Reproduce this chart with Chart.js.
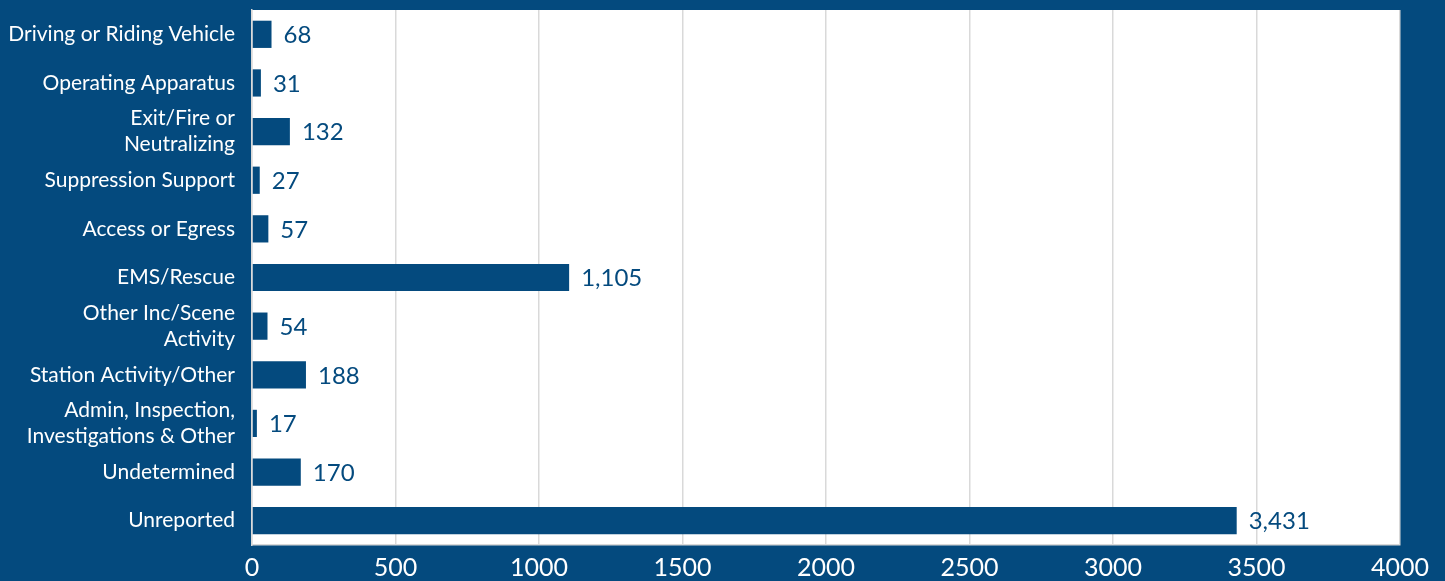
<!DOCTYPE html>
<html>
<head>
<meta charset="utf-8">
<script src="https://cdn.jsdelivr.net/npm/chart.js@4/dist/chart.umd.min.js"></script>
<style>
  html, body { margin: 0; padding: 0; background: #044a7e; }
  #wrap { width: 1445px; height: 581px; position: relative; }
</style>
</head>
<body>
<div id="wrap"><canvas id="chart"></canvas></div>
<script>
const categories = [
  'Driving or Riding Vehicle',
  'Operating Apparatus',
  ['Exit/Fire or', 'Neutralizing'],
  'Suppression Support',
  'Access or Egress',
  'EMS/Rescue',
  ['Other Inc/Scene', 'Activity'],
  'Station Activity/Other',
  ['Admin, Inspection,', 'Investigations & Other'],
  'Undetermined',
  'Unreported',
];
const counts = [68, 31, 132, 27, 57, 1105, 54, 188, 17, 170, 3431];
const xTicks = [0, 500, 1000, 1500, 2000, 2500, 3000, 3500, 4000];

const BLUE = '#044a7e';
const FONT = 'Lato, "Open Sans", sans-serif';

const plotBackground = {
  id: 'plotBackground',
  beforeDraw(chart) {
    const { ctx, chartArea: a } = chart;
    ctx.save();
    ctx.fillStyle = '#ffffff';
    ctx.fillRect(a.left, a.top, a.right - a.left, a.bottom - a.top);
    ctx.restore();
  },
};

const valueLabels = {
  id: 'valueLabels',
  afterDatasetsDraw(chart) {
    const { ctx } = chart;
    const meta = chart.getDatasetMeta(0);
    ctx.save();
    ctx.fillStyle = BLUE;
    ctx.font = `24px ${FONT}`;
    ctx.textAlign = 'left';
    ctx.textBaseline = 'middle';
    meta.data.forEach((bar, i) => {
      ctx.fillText(counts[i].toLocaleString('en-US'), bar.x + 12, bar.y + 1);
    });
    ctx.restore();
  },
};

new Chart(document.getElementById('chart'), {
  type: 'bar',
  data: {
    labels: categories,
    datasets: [{
      data: counts,
      backgroundColor: BLUE,
      barPercentage: 0.56,
      categoryPercentage: 1,
    }],
  },
  options: {
    indexAxis: 'y',
    responsive: true,
    maintainAspectRatio: false,
    animation: false,
    layout: { padding: { top: 10, right: 45, left: 8, bottom: 0 } },
    plugins: { legend: { display: false }, tooltip: { enabled: false } },
    scales: {
      x: {
        min: 0,
        max: 4000,
        afterBuildTicks: (axis) => { axis.ticks = xTicks.map((value) => ({ value })); },
        afterFit: (axis) => { axis.height = 36; },
        grid: { color: '#d9d9d9', lineWidth: 1.5, drawTicks: false },
        border: { color: '#d9d9d9', width: 1.5 },
        ticks: {
          color: '#ffffff',
          font: { family: FONT, size: 25 },
          padding: 8,
          maxRotation: 0,
          callback: (value) => String(value),
        },
      },
      y: {
        afterFit: (axis) => {
          axis.width = 244;
          axis.paddingTop = 0;
          axis.paddingBottom = 0;
        },
        grid: { display: false, drawTicks: false },
        border: { color: '#d9d9d9', width: 1.5 },
        ticks: { color: '#ffffff', font: { family: FONT, size: 21, lineHeight: 1.25 }, padding: 17, autoSkip: false },
      },
    },
  },
  plugins: [plotBackground, valueLabels],
});
</script>
</body>
</html>
